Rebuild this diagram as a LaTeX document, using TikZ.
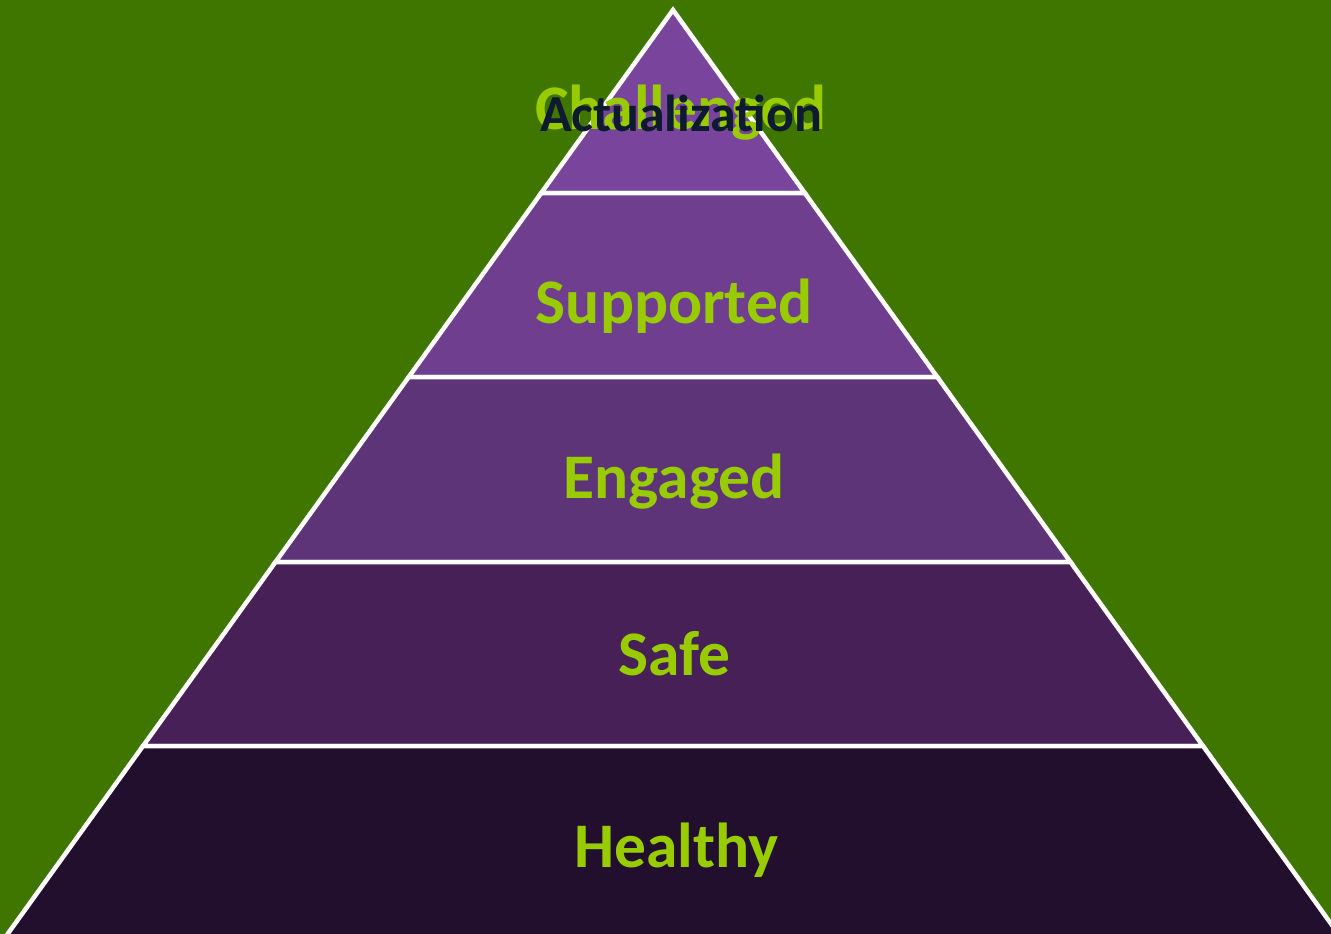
\documentclass[tikz,border=0pt]{standalone}
\usepackage{fontspec}
\setmainfont{Carlito}
\usepackage{tikz}
\usetikzlibrary{calc,positioning}

\definecolor{bggreen}{HTML}{3F7600}
\definecolor{lime}{HTML}{99CC00}
\definecolor{navy}{HTML}{0E1A30}
\definecolor{tierA}{HTML}{79459C}
\definecolor{tierB}{HTML}{703E8F}
\definecolor{tierC}{HTML}{5E3479}
\definecolor{tierD}{HTML}{462057}
\definecolor{tierE}{HTML}{210F2D}

\begin{document}
\begin{tikzpicture}[
    x=1pt, y=-1pt,
    tier/.style={draw=white, line width=4.5pt, line join=miter},
    label/.style={font=\fontsize{63.5}{70}\selectfont\bfseries, text=lime, inner sep=0pt, anchor=base},
    toplabel/.style={font=\fontsize{52}{60}\selectfont\bfseries, text=navy, inner sep=0pt, anchor=base}
]
    % background
    \fill[bggreen] (0,0) rectangle (1331,934);
    \clip (0,0) rectangle (1331,934);

    % pyramid apex and base
    \coordinate (apex) at (673,10);
    \coordinate (baseL) at (10.5,930);
    \coordinate (baseR) at (1335.5,930);

    % tiers, top to bottom: top edge fraction, bottom edge fraction, colour
    \foreach \t/\b/\c in {0/0.199/tierA, 0.199/0.399/tierB, 0.399/0.600/tierC, 0.600/0.800/tierD, 0.800/1.03/tierE} {
        \draw[tier, fill=\c] ($(apex)!\t!(baseL)$) -- ($(apex)!\b!(baseL)$)
            -- ($(apex)!\b!(baseR)$) -- ($(apex)!\t!(baseR)$) -- cycle;
    }

    % labels
    \node[label] (challenged) at (681,129) {Challenged};
    \node[toplabel] (actual) at (681,131) {Actualization};
    \node[label] (supported) at (674,323) {Supported};
    \node[label] (engaged) at (674,498) {Engaged};
    \node[label] (safe) at (674,675) {Safe};
    \node[label] (healthy) at (676,867) {Healthy};
\end{tikzpicture}
\end{document}
